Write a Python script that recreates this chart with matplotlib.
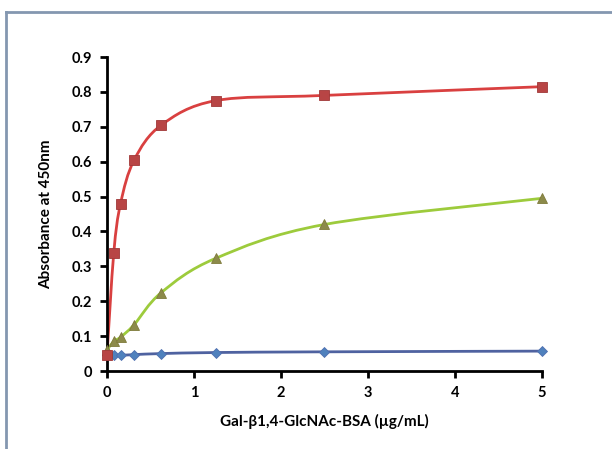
import numpy as np
import matplotlib
matplotlib.use("Agg")
import matplotlib.pyplot as plt
from matplotlib.path import Path
from matplotlib.patches import PathPatch
from matplotlib.lines import Line2D

plt.rcParams['font.family'] = ['Lato', 'DejaVu Sans']

conc = [0, 0.078, 0.156, 0.3125, 0.625, 1.25, 2.5, 5]
red_vals = [0.045, 0.338, 0.480, 0.605, 0.705, 0.775, 0.790, 0.815]
green_vals = [0.060, 0.085, 0.097, 0.133, 0.225, 0.323, 0.420, 0.495]
blue_vals = [0.045, 0.045, 0.045, 0.047, 0.050, 0.053, 0.055, 0.057]

x_ticks = [0, 1, 2, 3, 4, 5]
y_ticks = [0, 0.1, 0.2, 0.3, 0.4, 0.5, 0.6, 0.7, 0.8, 0.9]
y_labels = ["0", "0.1", "0.2", "0.3", "0.4", "0.5", "0.6", "0.7", "0.8", "0.9"]

XMAX, YMAX = 5.0, 0.9


def smooth_path(xs, ys):
    # excel style smoothed line: bezier segments through each point
    p = np.column_stack([np.array(xs) / XMAX, np.array(ys) / YMAX])
    n = len(p)
    verts = [p[0]]
    codes = [Path.MOVETO]
    for i in range(n - 1):
        p0 = p[i - 1] if i > 0 else p[i]
        p3 = p[i + 2] if i + 2 < n else p[i + 1]
        c1 = p[i] + (p[i + 1] - p0) / 6.0
        c2 = p[i + 1] - (p3 - p[i]) / 6.0
        verts += [c1, c2, p[i + 1]]
        codes += [Path.CURVE4] * 3
    verts = np.array(verts) * [XMAX, YMAX]
    return Path(verts, codes)


fig = plt.figure(figsize=(6.12, 4.49), dpi=100)
ax = fig.add_axes([0.1748, 0.1737, 0.7108, 0.6993])

series = [
    (blue_vals, "#4F62A0", "D", "#4F81BD", "#4F6FB0", 5),
    (green_vals, "#9DCB3C", "^", "#8C8A4A", "#7E7A3A", 7),
    (red_vals, "#D94040", "s", "#B84545", "#A03838", 7),
]
for vals, lc, mk, mfc, mec, ms in series:
    ax.add_patch(PathPatch(smooth_path(conc, vals), facecolor="none",
                           edgecolor=lc, lw=2, transform=ax.transData, zorder=2))
    ax.plot(conc, vals, linestyle="none", marker=mk, markersize=ms,
            markerfacecolor=mfc, markeredgecolor=mec, markeredgewidth=0.6,
            zorder=3, clip_on=False)

ax.set_xlim(0, XMAX)
ax.set_ylim(0, YMAX)
ax.set_xticks(x_ticks)
ax.set_xticklabels([str(t) for t in x_ticks])
ax.set_yticks(y_ticks)
ax.set_yticklabels(y_labels)
for s in ["top", "right"]:
    ax.spines[s].set_visible(False)
for s in ["left", "bottom"]:
    ax.spines[s].set_linewidth(2)
    ax.spines[s].set_color("black")
ax.tick_params(direction="out", length=5, width=2, labelsize=10.5, pad=6)
for lab in ax.get_xticklabels() + ax.get_yticklabels():
    lab.set_fontweight("bold")

ax.set_xlabel("Gal-β1,4-GlcNAc-BSA (µg/mL)", fontsize=11, fontweight="bold", labelpad=10)
ax.set_ylabel("Absorbance at 450nm", fontsize=11, fontweight="bold", labelpad=13)

# outer chart border (only left and top visible)
fig.add_artist(Line2D([6 / 612, 6 / 612], [0, 1 - 12 / 449], transform=fig.transFigure,
                      color="#8497B0", lw=2))
fig.add_artist(Line2D([6 / 612, 1], [1 - 12 / 449, 1 - 12 / 449], transform=fig.transFigure,
                      color="#8497B0", lw=2))

fig.savefig("out.png", dpi=100)
